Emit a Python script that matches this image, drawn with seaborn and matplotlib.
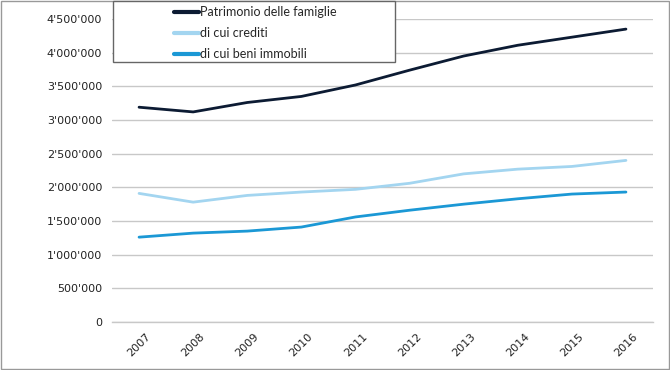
import matplotlib
matplotlib.use("Agg")
import matplotlib.pyplot as plt
import matplotlib.ticker as mticker
from matplotlib.patches import Rectangle
import seaborn as sns
import pandas as pd

years = ["2007", "2008", "2009", "2010", "2011", "2012", "2013", "2014", "2015", "2016"]
patrimonio = [3190000, 3120000, 3260000, 3350000, 3520000, 3740000, 3950000, 4110000, 4230000, 4350000]
crediti = [1910000, 1780000, 1880000, 1930000, 1970000, 2060000, 2200000, 2270000, 2310000, 2400000]
immobili = [1260000, 1320000, 1350000, 1410000, 1560000, 1660000, 1750000, 1830000, 1900000, 1930000]
series_names = ["Patrimonio delle famiglie", "di cui crediti", "di cui beni immobili"]
colors = ["#0c1b33", "#a3d5f0", "#1b98d5"]

rows = []
for name, vals in zip(series_names, [patrimonio, crediti, immobili]):
    for i, (y, v) in enumerate(zip(years, vals)):
        rows.append({"idx": i, "year": y, "value": v, "serie": name})
df = pd.DataFrame(rows)

sns.set_style("white")
plt.rcParams['font.family'] = ['Lato', 'DejaVu Sans']

fig = plt.figure(figsize=(6.7, 3.7), dpi=100)
ax = fig.add_axes([112/670, 1 - 322/370, (653-112)/670, (322-19)/370])

sns.lineplot(data=df, x="idx", y="value", hue="serie", palette=colors,
             hue_order=series_names, linewidth=2.0, ax=ax, legend=False)

ax.set_xlim(-0.5, 9.5)
ax.set_ylim(0, 4500000)
ax.set_yticks(range(0, 4500001, 500000))
ax.yaxis.set_major_formatter(mticker.FuncFormatter(lambda v, p: f"{int(v):,}".replace(",", "'")))
ax.set_xticks(range(len(years)))
ax.set_xticklabels(years, rotation=45, ha="center", va="top")
for lab in ax.get_xticklabels() + ax.get_yticklabels():
    lab.set_fontfamily("DejaVu Sans")
ax.tick_params(axis="both", labelsize=8, colors="#222222", length=0, pad=7)
ax.set_xlabel("")
ax.set_ylabel("")
ax.grid(axis="y", color="#c8c8c8", linewidth=1.0)
for s in ["top", "right", "left"]:
    ax.spines[s].set_visible(False)
ax.spines["bottom"].set_color("#c8c8c8")
ax.spines["bottom"].set_linewidth(1.0)

# legend
handles = [plt.Line2D([0], [0], color=c, lw=3) for c in colors]
fig.patches.append(Rectangle((113/670, 1 - 62/370), (395-113)/670, 61/370,
                             transform=fig.transFigure, facecolor="white",
                             edgecolor="#666666", linewidth=1.0, zorder=5))
leg = fig.legend(handles, series_names, loc="upper left",
                 bbox_to_anchor=(163/670, 1 + 5/370), frameon=False,
                 fontsize=9, handlelength=2.0, handletextpad=0.1,
                 labelspacing=0.72)
leg.set_zorder(6)

# figure border
fig.patches.append(Rectangle((1/670, 1/370), 668/670, 368/370,
                             transform=fig.transFigure, fill=False,
                             edgecolor="#999999", linewidth=1.0))

fig.savefig("out.png", dpi=100)
